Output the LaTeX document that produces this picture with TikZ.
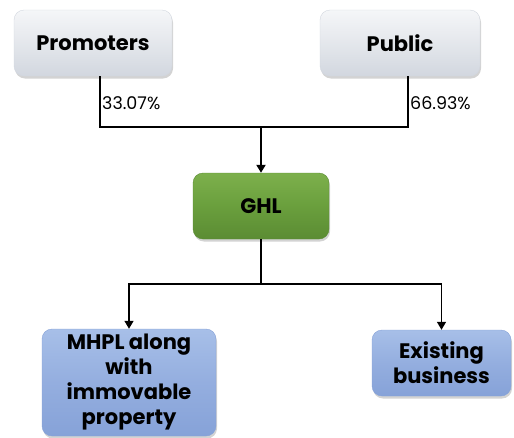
\documentclass[tikz,border=0pt]{standalone}
\usepackage{fontspec}
\setmainfont{Poppins}
\usetikzlibrary{shadows,arrows.meta}
\definecolor{gtop}{HTML}{F5F6F8}
\definecolor{gmid}{HTML}{E4E7EC}
\definecolor{gbot}{HTML}{D2D7DF}
\definecolor{grtop}{HTML}{7DB04C}
\definecolor{grmid}{HTML}{6A9F3D}
\definecolor{grbot}{HTML}{5B8C33}
\definecolor{btop}{HTML}{A7BFE8}
\definecolor{bmid}{HTML}{94AEDF}
\definecolor{bbot}{HTML}{86A2D8}
\tikzset{
  box/.style={rounded corners=10pt, align=center, inner sep=2pt,
    font=\fontsize{21}{25}\selectfont\bfseries,
    drop shadow={opacity=0.35, shadow xshift=1pt, shadow yshift=-2.5pt}},
  graybox/.style={box, top color=gtop, bottom color=gbot, middle color=gmid, draw=gbot, line width=0.4pt},
  greenbox/.style={box, top color=grtop, bottom color=grbot, middle color=grmid, draw=grbot, line width=0.4pt},
  bluebox/.style={box, top color=btop, bottom color=bbot, middle color=bmid, draw=bbot, line width=0.4pt},
  pct/.style={font=\fontsize{17.5}{19}\selectfont, anchor=west, inner sep=1pt},
  thickline/.style={line width=2.5pt},
  thinline/.style={line width=1.4pt},
  tip/.style={-{Triangle[length=8pt,width=9pt]}}
}
\begin{document}
\begin{tikzpicture}[x=1pt,y=1pt]
\useasboundingbox (0,0) rectangle (514,-437);
\node[graybox, minimum width=158pt, minimum height=66pt] (prom) at (93,-43) {Promoters};
\node[graybox, minimum width=160pt, minimum height=66pt] (pub) at (400,-43) {Public};
\node[greenbox, minimum width=136pt, minimum height=66pt] (ghl) at (261,-206) {GHL};
\node[bluebox, minimum width=174pt, minimum height=107pt] (mhpl) at (129,-382.5) {MHPL along\\with\\immovable\\property};
\node[bluebox, minimum width=139pt, minimum height=66pt] (ex) at (441.5,-363) {Existing\\business};
\coordinate (j1) at (261,-127);
\coordinate (j2) at (261,-284);
\draw[thickline] ([xshift=7pt]prom.south) |- (j1);
\draw[thickline] ([xshift=8pt]pub.south) |- (j1);
\draw[thickline, tip] (j1) -- (ghl.north);
\draw[thinline] (ghl.south) -- (j2);
\draw[thinline, tip] (j2) -| (mhpl.north);
\draw[thinline, tip] (j2) -| (ex.north);
\node[pct] (p1) at (101,-103) {33.07\%};
\node[pct] (p2) at (409,-103) {66.93\%};
\end{tikzpicture}
\end{document}
